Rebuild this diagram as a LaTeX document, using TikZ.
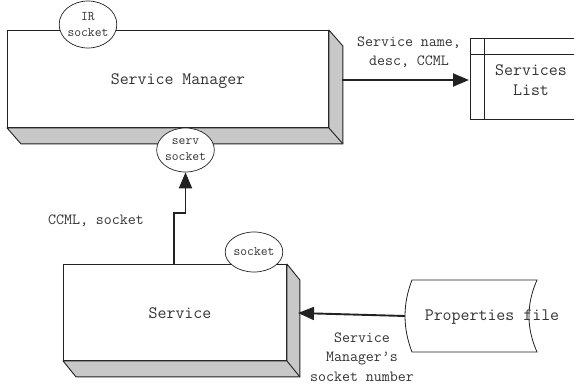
\documentclass[tikz,border=0pt]{standalone}
\usepackage{fontspec}
\usetikzlibrary{arrows.meta,shapes.geometric,calc}

\definecolor{edge}{HTML}{222222}
\definecolor{txt}{HTML}{333333}
\definecolor{shade}{HTML}{C8C8C8}

\begin{document}
\begin{tikzpicture}[x=1pt,y=-1pt,
  every node/.style={font=\ttfamily, text=txt},
  face/.style={draw=edge, fill=white, line width=0.9pt, inner sep=0pt, anchor=north west},
  side/.style={draw=edge, fill=shade, line width=0.9pt, line join=round},
  sock/.style={ellipse, draw=edge, fill=white, line width=0.7pt, inner sep=0pt,
    align=center, font=\ttfamily\fontsize{13.2}{16}\selectfont},
  title/.style={align=center, font=\ttfamily\fontsize{17.4}{20}\selectfont},
  lbl/.style={align=center, font=\ttfamily\fontsize{15.5}{19.5}\selectfont},
  flow/.style={draw=edge, line width=1.9pt, -{Triangle[length=16pt,width=13pt]}}
]
\useasboundingbox (0,0) rectangle (574,386);

% Service Manager: front face with its bevelled side and bottom
\node[face, minimum width=321pt, minimum height=97pt] (sm) at (7,30) {};
\draw[side] (sm.south west) -- ++(14,16) -- ($(sm.south east)+(14,16)$)
  -- ($(sm.north east)+(14,16)$) -- (sm.north east) -- (sm.south east) -- cycle;
\draw[edge, line width=0.9pt] (sm.south east) -- ++(14,16);
\node[title] (smtext) at (178,81) {Service Manager};
\node[sock, minimum width=49pt, minimum height=47pt] (ir) at (88,24.5) {IR\\socket};
\node[sock, minimum width=49pt, minimum height=44pt] (serv) at (185.5,150) {serv\\socket};
\coordinate (smR) at (342,80);

% Services List table
\draw[edge, line width=0.9pt] (574,38) -| (470,119) -- (574,119);
\draw[edge, line width=0.9pt] (484,38) -- (484,119) (470,54) -- (574,54);
\node[title] (sl) at (531,80) {Services\\List};
\coordinate (slL) at (469,80);

% Service: front face with its bevelled side and bottom
\node[face, minimum width=223pt, minimum height=96pt] (svc) at (63,264) {};
\draw[side] (svc.south west) -- ++(13,16) -- ($(svc.south east)+(13,16)$)
  -- ($(svc.north east)+(13,16)$) -- (svc.north east) -- (svc.south east) -- cycle;
\draw[edge, line width=0.9pt] (svc.south east) -- ++(13,16);
\node[title] (svctext) at (180,313) {Service};
\node[sock, minimum width=49pt, minimum height=40pt] (sock) at (254,252) {socket};
\coordinate (svcT) at (174,264);
\coordinate (svcR) at (298,313);

% Properties file (document shape)
\draw[edge, line width=0.8pt, fill=white]
  (412,280) -- (537,280) .. controls (526.3,304) and (526.3,328) .. (537,352)
  -- (412,352) .. controls (402.7,328) and (402.7,304) .. (412,280) -- cycle;
\node[title] (pf) at (492,317) {Properties file};
\coordinate (pfL) at (405,316);

% connectors
\draw[flow] (smR) -- (slL);
\draw[flow] (svcT) -- (174,213) -- (185.5,213) -- (serv.south);
\draw[flow] (pfL) -- (svcR);

% connector labels
\node[lbl] (l1) at (409,52) {Service name,\\desc, CCML};
\node[lbl] (l2) at (96,221) {CCML, socket};
\node[lbl] (l3) at (362,357) {Service\\Manager’s\\socket number};
\end{tikzpicture}
\end{document}
